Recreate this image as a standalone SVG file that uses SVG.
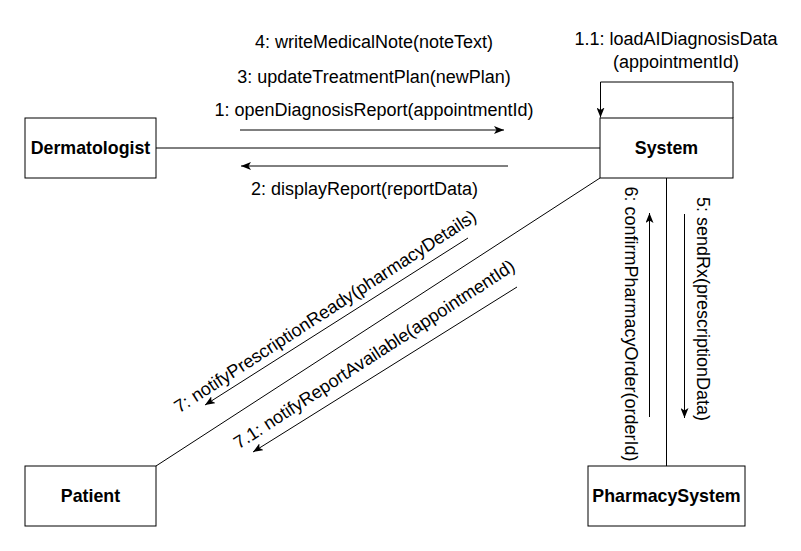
<svg xmlns="http://www.w3.org/2000/svg" width="801" height="551" viewBox="0 0 801 551">
  <style>
    .box { fill: #ffffff; stroke: #000000; stroke-width: 1; }
    .name { font-family: "Liberation Sans", Arial, sans-serif; font-size: 17.8px; font-weight: bold; fill: #000000; text-anchor: middle; }
    .msg { font-family: "Liberation Sans", Arial, sans-serif; font-size: 18px; fill: #000000; text-anchor: middle; }
    .link { fill: none; stroke: #000000; stroke-width: 1; }
    .arrow { fill: none; stroke: #000000; stroke-width: 1; marker-end: url(#head); }
  </style>
  <defs>
    <marker id="head" markerUnits="userSpaceOnUse" viewBox="0 0 10 8" refX="10" refY="4" markerWidth="10" markerHeight="8" orient="auto">
      <path d="M0,0 L10,4 L0,8 L2.5,4 z" fill="#000000"/>
    </marker>
  </defs>
  <rect width="801" height="551" fill="#ffffff"/>

  <g id="connectors">
    <path class="link" d="M156,148 L600,148"/>
    <path class="link" d="M156,466 L600,178"/>
    <path class="link" d="M666.5,178 L666.5,466"/>
    <path class="arrow" d="M733,118 L733,82 L600.5,82 L600.5,117.5"/>
    <path class="arrow" d="M240,130 L504,130"/>
    <path class="arrow" d="M508,166 L241,166"/>
    <path class="arrow" d="M468,238 L205,405"/>
    <path class="arrow" d="M517,287 L253,452"/>
    <path class="arrow" d="M649.5,417 L649.5,213"/>
    <path class="arrow" d="M684.5,214 L684.5,418"/>
    <g id="labels">
      <text class="msg" x="374" y="48">4: writeMedicalNote(noteText)</text>
      <text class="msg" x="374" y="83">3: updateTreatmentPlan(newPlan)</text>
      <text class="msg" x="374" y="116">1: openDiagnosisReport(appointmentId)</text>
      <text class="msg" x="364.5" y="195">2: displayReport(reportData)</text>
      <text class="msg" x="676" y="45">1.1: loadAIDiagnosisData</text>
      <text class="msg" x="676" y="68">(appointmentId)</text>
      <text class="msg" transform="translate(325,311) rotate(-33)" y="6.5">7: notifyPrescriptionReady(pharmacyDetails)</text>
      <text class="msg" transform="translate(374,354) rotate(-33)" y="6.5">7.1: notifyReportAvailable(appointmentId)</text>
      <text class="msg" transform="translate(631.5,324) rotate(90)" y="6.5">6: confirmPharmacyOrder(orderId)</text>
      <text class="msg" transform="translate(703,309) rotate(90)" y="6.5">5: sendRx(prescriptionData)</text>
    </g>
  </g>

  <g id="dermatologist">
    <rect class="box" x="25" y="118" width="131" height="60"/>
    <text class="name" x="90.5" y="154.4">Dermatologist</text>
  </g>
  <g id="system">
    <rect class="box" x="600" y="118" width="133" height="60"/>
    <text class="name" x="666.5" y="154.4">System</text>
  </g>
  <g id="patient">
    <rect class="box" x="25" y="466" width="131" height="60"/>
    <text class="name" x="90.5" y="502.4">Patient</text>
  </g>
  <g id="pharmacysystem">
    <rect class="box" x="588" y="466" width="157" height="60"/>
    <text class="name" x="666.5" y="502.4">PharmacySystem</text>
  </g>
</svg>
